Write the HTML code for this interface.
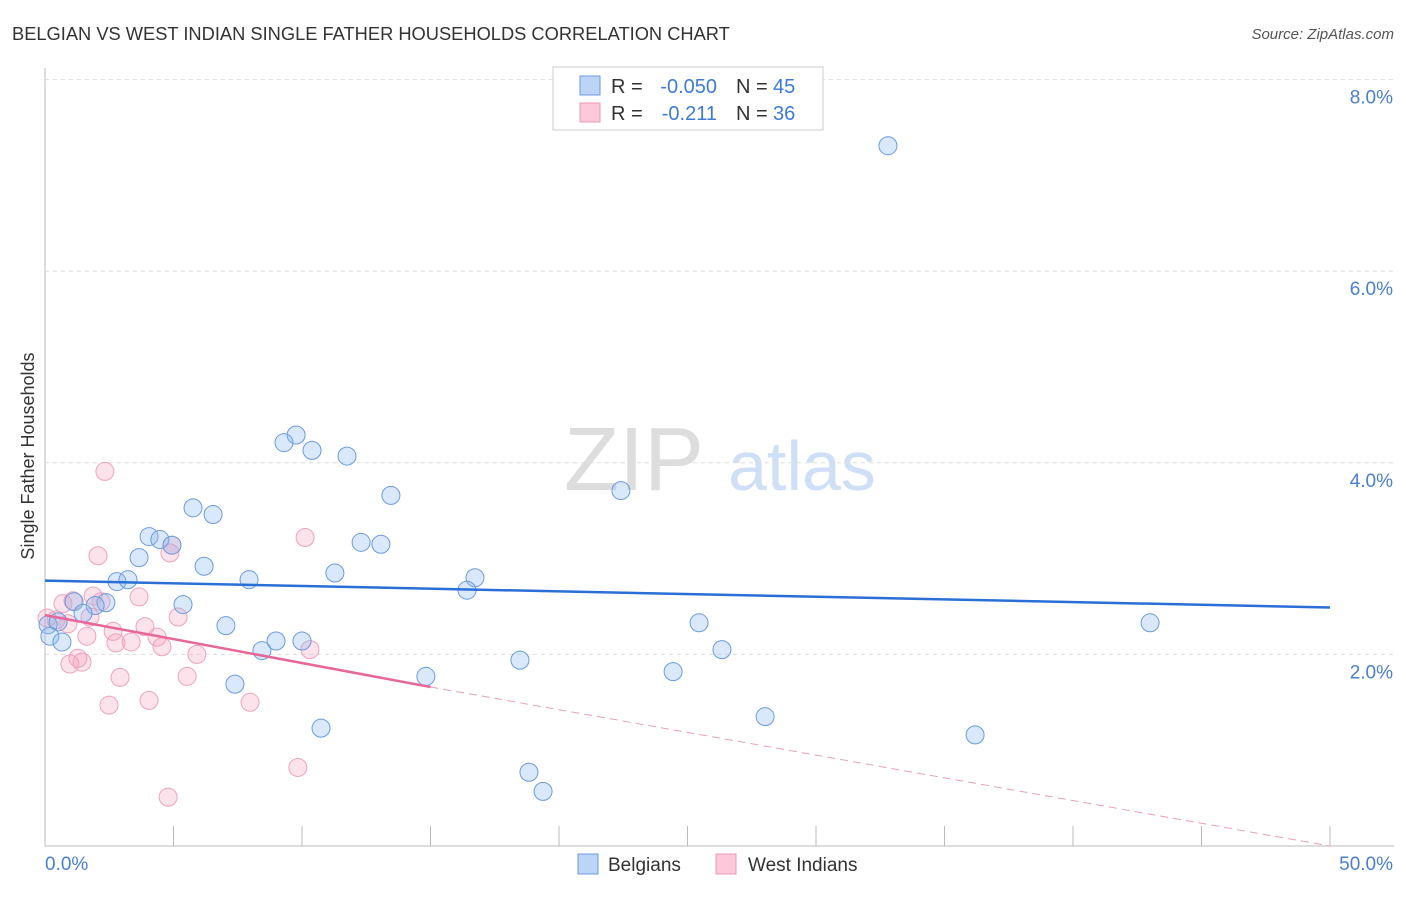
<!DOCTYPE html>
<html><head><meta charset="utf-8"><style>
body{margin:0;background:#fff;font-family:"Liberation Sans",sans-serif}
svg text{font-family:"Liberation Sans",sans-serif}
</style></head><body>
<svg id="c" width="1406" height="892">
<text x="12" y="40" font-size="18.3" fill="#333">BELGIAN VS WEST INDIAN SINGLE FATHER HOUSEHOLDS CORRELATION CHART</text>
<text x="1394" y="39" font-size="15" fill="#555" text-anchor="end" font-style="italic">Source: ZipAtlas.com</text>
<text x="34" y="456" font-size="18" fill="#333" text-anchor="middle" transform="rotate(-90 34 456)">Single Father Households</text>
<g><text x="634" y="490" font-size="90" fill="#ddd" text-anchor="middle" font-family="Liberation Serif">ZIP</text><text x="802" y="490" font-size="70" fill="#cfdff5" text-anchor="middle">atlas</text></g>
<g id="grid"></g><g id="marks"></g>
<g>
<rect x="553" y="67" width="270" height="63" fill="#fff" stroke="#ccc"/>
<rect x="580" y="76" width="20" height="19" fill="#bcd4f5" stroke="#6b9bdf"/>
<rect x="580" y="103" width="20" height="19" fill="#fbc9da" stroke="#eb98b6"/>
<text x="611" y="93" font-size="20" fill="#333">R =</text>
<text x="717" y="93" font-size="20" fill="#3f7bd6" text-anchor="end">-0.050</text>
<text x="736" y="93" font-size="20" fill="#333">N =</text>
<text x="773" y="93" font-size="20" fill="#3f7bd6">45</text>
<text x="611" y="120" font-size="20" fill="#333">R =</text>
<text x="717" y="120" font-size="20" fill="#3f7bd6" text-anchor="end">-0.211</text>
<text x="736" y="120" font-size="20" fill="#333">N =</text>
<text x="773" y="120" font-size="20" fill="#3f7bd6">36</text>
</g>
<g>
<rect x="578" y="854" width="20" height="20" fill="#bcd4f5" stroke="#6b9bdf"/>
<text x="608" y="871" font-size="19" fill="#333">Belgians</text>
<rect x="716" y="854" width="20" height="20" fill="#fbc9da" stroke="#eb98b6"/>
<text x="748" y="871" font-size="19" fill="#333">West Indians</text>
</g>
</svg>
<script>
const yTicks=[2,4,6,8];
const yTickLabels=["2.0%","4.0%","6.0%","8.0%"];
const xTicks=[0,5,10,15,20,25,30,35,40,45,50];
const belgX=[32.8,9.77,9.3,10.39,11.75,13.46,22.41,5.76,6.54,4.05,4.47,4.94,12.3,13.07,3.66,6.19,11.28,16.73,7.94,2.8,3.23,16.42,1.13,2.37,1.95,5.37,1.48,0.12,0.51,7.04,25.45,43.0,0.19,0.66,8.99,10.0,8.44,26.34,18.48,24.44,14.82,7.39,28.02,10.74,36.19,18.83,19.38];
const belgY=[7.31,4.29,4.21,4.13,4.07,3.66,3.71,3.53,3.46,3.23,3.2,3.14,3.17,3.15,3.01,2.92,2.85,2.8,2.78,2.76,2.78,2.67,2.55,2.54,2.51,2.52,2.43,2.31,2.34,2.3,2.33,2.33,2.19,2.13,2.14,2.14,2.04,2.05,1.94,1.82,1.77,1.69,1.35,1.23,1.16,0.77,0.57];
const wiX=[2.33,10.12,4.94,4.86,2.06,3.66,1.87,1.09,0.7,2.18,5.18,1.75,0.08,0.43,0.89,3.89,2.65,1.63,4.36,2.76,3.35,4.55,10.31,5.91,1.28,1.44,0.97,2.92,5.53,4.05,2.49,7.98,9.84,4.79];
const wiY=[3.91,3.22,3.14,3.06,3.03,2.6,2.61,2.56,2.53,2.55,2.39,2.39,2.38,2.36,2.32,2.29,2.24,2.19,2.18,2.12,2.13,2.08,2.05,2.0,1.96,1.92,1.9,1.76,1.77,1.52,1.47,1.5,0.82,0.51];
const belgTrend=[2.77,2.49];
const wiTrend=[2.41,1.66,0.0];
const wiSolidEnd=15;
const X=v=>45+v/50*1285, Y=v=>846-v*95.8;
const NS="http://www.w3.org/2000/svg";
function mk(tag,at,parent){const e=document.createElementNS(NS,tag);for(const k in at)e.setAttribute(k,at[k]);parent.appendChild(e);return e;}
const g=document.getElementById('grid'),m=document.getElementById('marks');
let ax=mk('line',{x1:45,y1:68,x2:45,y2:846,stroke:'#bbb'},g);


let bx=mk('line',{x1:45,y1:846,x2:1394,y2:846,stroke:'#bbb'},g);


yTicks.forEach((t,i)=>{
 let l=mk('line',{x1:45,y1:Y(t),x2:1394,y2:Y(t),stroke:'#ddd','stroke-dasharray':'4,4'},g);
 
 
 let tx=mk('text',{x:1393,y:Y(t)+24,'font-size':19,fill:'#4a7fd0','text-anchor':'end'},g);
 tx.textContent=yTickLabels[i];
 
 
});
xTicks.forEach(t=>{
 let l=mk('line',{x1:X(t),y1:826,x2:X(t),y2:846,stroke:'#bbb'},g);
 
 
});
let x0=mk('text',{x:45,y:870,'font-size':19,fill:'#4a7fd0'},g);x0.textContent='0.0%';


let x1=mk('text',{x:1393,y:870,'font-size':19,fill:'#4a7fd0','text-anchor':'end'},g);x1.textContent='50.0%';


wiX.forEach((v,i)=>{
 let c=mk('circle',{cx:X(v),cy:Y(wiY[i]),r:9,fill:'rgba(245,160,190,0.3)',stroke:'#eea3be','stroke-width':1},m);
 
 
});
belgX.forEach((v,i)=>{
 let c=mk('circle',{cx:X(v),cy:Y(belgY[i]),r:9,fill:'rgba(140,185,240,0.33)',stroke:'#6b9bdf','stroke-width':1},m);
 
 
});
let bt=mk('line',{x1:X(0),y1:Y(belgTrend[0]),x2:X(50),y2:Y(belgTrend[1]),stroke:'#2a6fd6','stroke-width':2.5},m);


let wt=mk('line',{x1:X(0),y1:Y(wiTrend[0]),x2:X(wiSolidEnd),y2:Y(wiTrend[1]),stroke:'#e8679a','stroke-width':2.5},m);


let wd=mk('line',{x1:X(wiSolidEnd),y1:Y(wiTrend[1]),x2:X(50),y2:Y(wiTrend[2]),stroke:'#e8a0bb','stroke-width':1,'stroke-dasharray':'8,5'},m);


</script>
</body></html>
